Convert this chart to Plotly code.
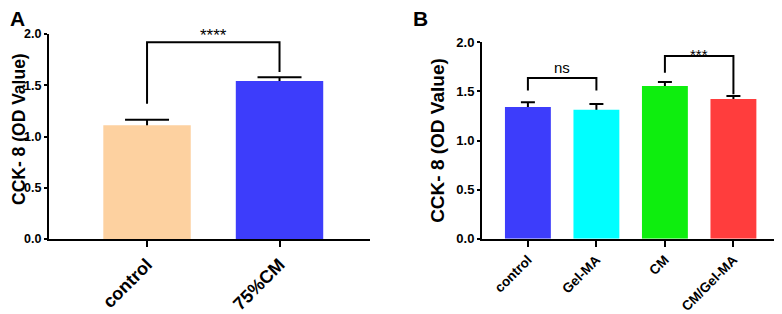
import plotly.graph_objects as go

# ---- data ----
cats_a = ["control", "75%CM"]
vals_a = [1.109, 1.541]
err_a = [0.055, 0.036]
colors_a = ["#FDD1A0", "#3D3DFB"]

cats_b = ["control", "Gel-MA", "CM", "CM/Gel-MA"]
vals_b = [1.341, 1.314, 1.555, 1.423]
err_b = [0.048, 0.058, 0.041, 0.030]
colors_b = ["#3D3DFB", "#00FFFF", "#0EEE0E", "#FF3D3D"]

y_ticks = [0.0, 0.5, 1.0, 1.5, 2.0]
y_title = "CCK- 8 (OD Value)"

# significance brackets: (x_left, x_right, y_top, y_left_end, y_right_end, label, label_y)
sig_a = [(0, 1, 1.92, 1.32, 1.63, "****", 2.0)]
sig_b = [(0, 1, 1.636, 1.51, 1.51, "ns", 1.74),
         (2, 3, 1.86, 1.69, 1.47, "***", 1.90)]

FONT = "Arial, Liberation Sans, Helvetica, sans-serif"
OFF = 8  # page body margin offset
W, H = 782 - OFF, 314 - OFF

fig = go.Figure()


def add_bars(cats, vals, errs, colors, bw, capw, xa, ya):
    xs = list(range(len(cats)))
    # transparent bars carrying symmetric error bars (lower half hidden by the bars drawn above)
    fig.add_trace(go.Bar(
        x=xs, y=vals, width=bw, marker=dict(color="rgba(0,0,0,0)", line=dict(width=0)),
        error_y=dict(type="data", array=errs, color="black", thickness=2, width=capw),
        xaxis=xa, yaxis=ya, showlegend=False, hoverinfo="skip"))
    fig.add_trace(go.Bar(
        x=xs, y=vals, width=bw, marker=dict(color=colors, line=dict(width=0)),
        xaxis=xa, yaxis=ya, showlegend=False))


add_bars(cats_a, vals_a, err_a, colors_a, 0.66, 22, "x", "y")
add_bars(cats_b, vals_b, err_b, colors_b, 0.67, 7, "x2", "y2")


def add_brackets(sigs, xa, ya, size, shift):
    for (xl, xr, yt, yle, yre, lab, ly) in sigs:
        fig.add_trace(go.Scatter(
            x=[xl, xl, xr, xr], y=[yle, yt, yt, yre], mode="lines",
            line=dict(color="black", width=2), xaxis=xa, yaxis=ya,
            showlegend=False, hoverinfo="skip", cliponaxis=False))
        fig.add_annotation(x=(xl + xr) / 2, y=ly, xref=xa, yref=ya, text=lab,
                           showarrow=False, yanchor="middle", yshift=shift,
                           font=dict(family=FONT, size=size, color="black"))


add_brackets(sig_a[:1], "x", "y", 17, -1)
add_brackets(sig_b[:1], "x2", "y2", 15, 0)
add_brackets(sig_b[1:], "x2", "y2", 15, -2)


def px_x(p):
    return (p - OFF) / W


def px_y(p):
    return (H - (p - OFF)) / H


axis_common = dict(showline=True, linecolor="black", linewidth=2, showgrid=False,
                   zeroline=False, ticks="outside", tickcolor="black", tickwidth=2,
                   automargin=False)

fig.update_layout(
    template="none",
    width=W, height=H, margin=dict(l=0, r=0, t=0, b=0),
    paper_bgcolor="white", plot_bgcolor="white", barmode="overlay",
    xaxis=dict(domain=[px_x(49), px_x(370)], range=[-0.74, 1.683],
               tickvals=list(range(len(cats_a))), ticktext=cats_a, tickangle=-45,
               ticklen=6, anchor="y",
               tickfont=dict(family=FONT, size=18, color="black", weight="bold"),
               **axis_common),
    yaxis=dict(domain=[px_y(239), px_y(34)], range=[0, 2], tickvals=y_ticks,
               tickformat=".1f", ticklen=3, anchor="x",
               tickfont=dict(family=FONT, size=12.5, color="black", weight="bold"),
               **axis_common),
    xaxis2=dict(domain=[px_x(482), px_x(780)], range=[-0.67, 3.68],
                tickvals=list(range(len(cats_b))), ticktext=cats_b, tickangle=-45,
                ticklen=6, anchor="y2",
                tickfont=dict(family=FONT, size=13.5, color="black", weight="bold"),
                **axis_common),
    yaxis2=dict(domain=[px_y(238.7), px_y(42.3)], range=[0, 2], tickvals=y_ticks,
                tickformat=".1f", ticklen=3, anchor="x2",
                tickfont=dict(family=FONT, size=13, color="black", weight="bold"),
                title=dict(text=y_title, standoff=7,
                           font=dict(family=FONT, size=19, color="black", weight="bold")),
                **axis_common),
)

# y-axis title of panel A (placed as annotation so it stays clear of the tick labels)
fig.add_annotation(x=0, y=px_y(129), xref="paper", yref="paper", text=y_title,
                   textangle=-90, showarrow=False, xanchor="left", yanchor="middle",
                   xshift=-1, font=dict(family=FONT, size=17.5, color="black", weight="bold"))

fig.add_annotation(x=0, y=1, xref="paper", yref="paper", text="A",
                   showarrow=False, xanchor="left", yanchor="top", yshift=3,
                   font=dict(family=FONT, size=21, color="black", weight="bold"))
fig.add_annotation(x=px_x(411), y=1, xref="paper", yref="paper", text="B",
                   showarrow=False, xanchor="left", yanchor="top", yshift=3,
                   font=dict(family=FONT, size=21, color="black", weight="bold"))

fig.write_html("out.html")
